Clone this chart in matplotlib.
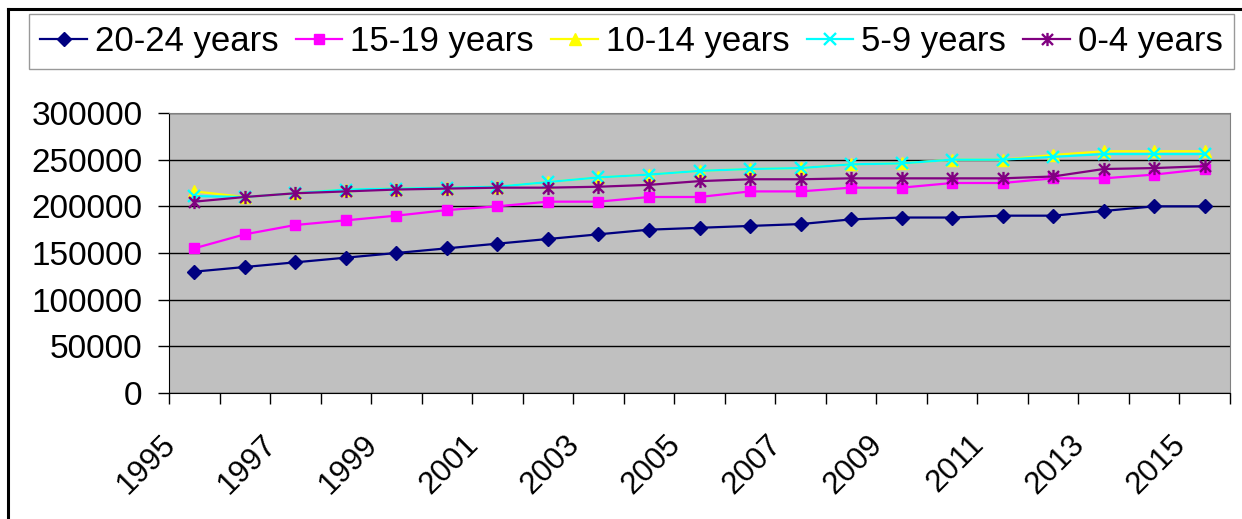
import matplotlib
matplotlib.use("Agg")
import matplotlib.pyplot as plt
from matplotlib.path import Path
from matplotlib.transforms import ScaledTranslation

plt.rcParams['font.family'] = ['Liberation Sans', 'DejaVu Sans']

years = list(range(1995, 2016))
age_20_24 = [130000, 135000, 140000, 145000, 150000, 155000, 160000, 165000, 170000, 175000, 177000,
             179000, 181000, 186000, 188000, 188000, 190000, 190000, 195000, 200000, 200000]
age_15_19 = [155000, 170000, 180000, 185000, 190000, 196000, 200000, 205000, 205000, 210000, 210000,
             216000, 216000, 220000, 220000, 225000, 225000, 230000, 230000, 234000, 240000]
age_10_14 = [216000, 210000, 214000, 218000, 219000, 220000, 221000, 226000, 231000, 234000, 238000,
             240000, 241000, 245000, 246000, 250000, 250000, 255000, 259000, 259000, 259000]
age_5_9 = [211000, 210000, 214000, 218000, 219000, 220000, 221000, 226000, 231000, 234000, 238000,
           240000, 241000, 245000, 246000, 250000, 250000, 253000, 256000, 256000, 256000]
age_0_4 = [205000, 210000, 214000, 216000, 218000, 219000, 220000, 220000, 221000, 223000, 227000,
           229000, 229000, 230000, 230000, 230000, 230000, 232000, 240000, 241000, 243000]

# excel style star: an x with a vertical bar through it
star = Path([(-1, -1), (1, 1), (-1, 1), (1, -1), (0, -1.2), (0, 1.2)],
            [Path.MOVETO, Path.LINETO, Path.MOVETO, Path.LINETO, Path.MOVETO, Path.LINETO])

series = [
    ("20-24 years", age_20_24, "#000080", "D", 7.4, 1.0),
    ("15-19 years", age_15_19, "#FF00FF", "s", 7.8, 1.0),
    ("10-14 years", age_10_14, "#FFFF00", "^", 8.0, 1.0),
    ("5-9 years", age_5_9, "#00FFFF", "x", 9.0, 1.7),
    ("0-4 years", age_0_4, "#800080", star, 9.5, 1.7),
]

fig = plt.figure(figsize=(12.42, 5.19), dpi=100)
ax = fig.add_axes([169 / 1242, 1 - 393 / 519, (1230 - 169) / 1242, (393 - 113) / 519])
ax.set_facecolor("#C0C0C0")

x = list(range(len(years)))
for name, vals, col, mk, ms, mew in series:
    fill = "none" if mk in ("x",) or mk is star else col
    ax.plot(x, vals, color=col, lw=1.6, marker=mk, ms=ms, mec=col, mfc=fill, mew=mew,
            label=name, zorder=3, clip_on=False)

ax.set_xlim(-0.5, len(years) - 0.5)
ax.set_ylim(0, 300000)
ax.set_yticks(range(0, 300001, 50000))
ax.yaxis.grid(True, color="black", lw=1)
ax.set_axisbelow(True)
ax.tick_params(axis="y", labelsize=24, length=8, width=1, pad=11, direction="out")

ax.set_xticks(x[::2])
ax.set_xticklabels([str(y) for y in years[::2]], rotation=45, ha="right", va="top")
ax.set_xticks([i - 0.5 for i in range(len(years) + 1)], minor=True)
ax.tick_params(axis="x", which="major", length=0, labelsize=22.5, pad=26)
ax.tick_params(axis="x", which="minor", length=8, width=1, direction="out")
shift = ScaledTranslation(-0.13, 0, fig.dpi_scale_trans)
for lab in ax.get_xticklabels():
    lab.set_transform(lab.get_transform() + shift)

for s in ("top", "right"):
    ax.spines[s].set_color("#808080")
for s in ("left", "bottom"):
    ax.spines[s].set_color("black")

leg = fig.legend(loc="upper left", bbox_to_anchor=(29 / 1242, 1 - 14 / 519), ncol=5,
                 fontsize=25, frameon=True, fancybox=False, edgecolor="#808080",
                 handlelength=1.35, handletextpad=0.22, columnspacing=0.5,
                 borderpad=0.32, borderaxespad=0)
leg.get_frame().set_linewidth(1)

# outer chart border (top and left edges are visible)
fig.add_artist(plt.Line2D([8 / 1242, 1], [1 - 9 / 519, 1 - 9 / 519], color="black", lw=2.2))
fig.add_artist(plt.Line2D([8 / 1242, 8 / 1242], [0, 1 - 9 / 519], color="black", lw=2.2))

fig.savefig("out.png", dpi=100)
